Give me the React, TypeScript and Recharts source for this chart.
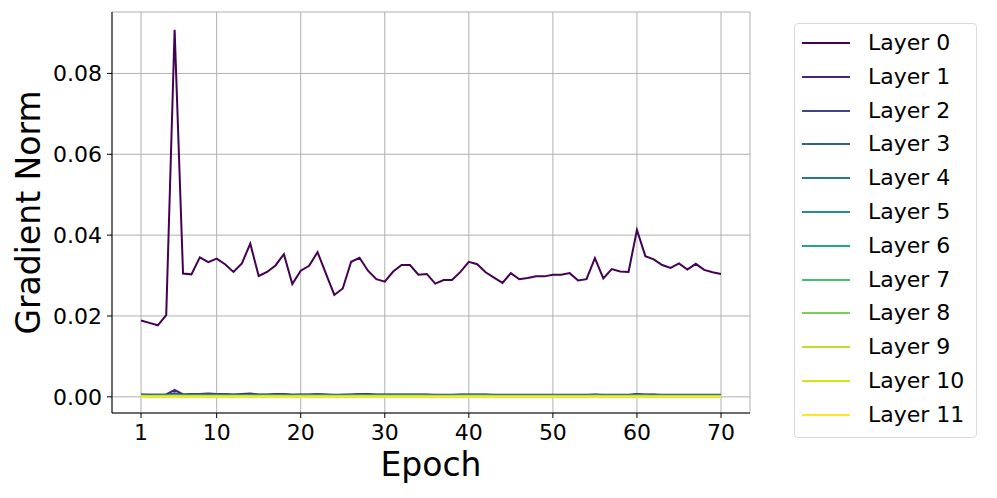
import React from 'react';
import { LineChart, Line, XAxis, YAxis, CartesianGrid } from 'recharts';

const epochs = [
  1, 2, 3, 4, 5, 6, 7, 8, 9, 10,
  11, 12, 13, 14, 15, 16, 17, 18, 19, 20,
  21, 22, 23, 24, 25, 26, 27, 28, 29, 30,
  31, 32, 33, 34, 35, 36, 37, 38, 39, 40,
  41, 42, 43, 44, 45, 46, 47, 48, 49, 50,
  51, 52, 53, 54, 55, 56, 57, 58, 59, 60,
  61, 62, 63, 64, 65, 66, 67, 68, 69, 70,
];

const layer0 = [
  0.0189, 0.0183, 0.0177, 0.0202, 0.0908, 0.0305, 0.0303, 0.0345, 0.0333, 0.0342,
  0.0328, 0.0309, 0.0330, 0.0379, 0.0299, 0.0309, 0.0325, 0.0353, 0.0279, 0.0312,
  0.0324, 0.0358, 0.0305, 0.0252, 0.0268, 0.0334, 0.0344, 0.0312, 0.0291, 0.0285,
  0.0310, 0.0326, 0.0326, 0.0302, 0.0304, 0.0280, 0.0289, 0.0289, 0.0309, 0.0334,
  0.0328, 0.0308, 0.0295, 0.0282, 0.0306, 0.0291, 0.0294, 0.0298, 0.0298, 0.0302,
  0.0302, 0.0306, 0.0288, 0.0291, 0.0343, 0.0293, 0.0316, 0.0310, 0.0309, 0.0413,
  0.0348, 0.0340, 0.0326, 0.0319, 0.0330, 0.0315, 0.0329, 0.0314, 0.0308, 0.0304,
];

const layer1 = [
  0.0006, 0.0005, 0.0005, 0.0006, 0.0017, 0.0006, 0.0007, 0.0007, 0.0008, 0.0007,
  0.0007, 0.0006, 0.0007, 0.0008, 0.0006, 0.0006, 0.0007, 0.0007, 0.0005, 0.0006,
  0.0006, 0.0007, 0.0006, 0.0005, 0.0005, 0.0006, 0.0007, 0.0007, 0.0006, 0.0006,
  0.0006, 0.0006, 0.0006, 0.0006, 0.0006, 0.0005, 0.0005, 0.0005, 0.0006, 0.0006,
  0.0006, 0.0006, 0.0005, 0.0005, 0.0005, 0.0005, 0.0005, 0.0005, 0.0005, 0.0005,
  0.0005, 0.0005, 0.0005, 0.0005, 0.0006, 0.0005, 0.0005, 0.0005, 0.0005, 0.0007,
  0.0006, 0.0006, 0.0005, 0.0005, 0.0005, 0.0005, 0.0005, 0.0005, 0.0005, 0.0005,
];

const layer2 = [
  0.0005, 0.0005, 0.0005, 0.0005, 0.0009, 0.0005, 0.0006, 0.0006, 0.0006, 0.0006,
  0.0006, 0.0005, 0.0005, 0.0006, 0.0005, 0.0005, 0.0005, 0.0006, 0.0005, 0.0005,
  0.0005, 0.0006, 0.0005, 0.0004, 0.0005, 0.0005, 0.0006, 0.0005, 0.0005, 0.0005,
  0.0005, 0.0005, 0.0005, 0.0005, 0.0005, 0.0004, 0.0004, 0.0004, 0.0005, 0.0005,
  0.0005, 0.0005, 0.0004, 0.0004, 0.0004, 0.0004, 0.0004, 0.0004, 0.0004, 0.0004,
  0.0004, 0.0004, 0.0004, 0.0004, 0.0005, 0.0004, 0.0004, 0.0004, 0.0004, 0.0006,
  0.0005, 0.0005, 0.0004, 0.0004, 0.0004, 0.0004, 0.0004, 0.0004, 0.0004, 0.0004,
];

const layer3 = [
  0.0004, 0.0004, 0.0004, 0.0004, 0.0006, 0.0004, 0.0005, 0.0005, 0.0005, 0.0005,
  0.0005, 0.0004, 0.0004, 0.0005, 0.0004, 0.0004, 0.0004, 0.0005, 0.0004, 0.0004,
  0.0004, 0.0005, 0.0004, 0.0004, 0.0004, 0.0004, 0.0005, 0.0004, 0.0004, 0.0004,
  0.0004, 0.0004, 0.0004, 0.0004, 0.0004, 0.0004, 0.0004, 0.0004, 0.0004, 0.0004,
  0.0004, 0.0004, 0.0004, 0.0004, 0.0004, 0.0004, 0.0004, 0.0004, 0.0004, 0.0004,
  0.0004, 0.0004, 0.0004, 0.0004, 0.0004, 0.0004, 0.0004, 0.0004, 0.0004, 0.0005,
  0.0004, 0.0004, 0.0004, 0.0004, 0.0004, 0.0004, 0.0004, 0.0004, 0.0004, 0.0004,
];

const layer4 = [
  0.0004, 0.0003, 0.0003, 0.0004, 0.0005, 0.0004, 0.0004, 0.0004, 0.0004, 0.0004,
  0.0004, 0.0004, 0.0004, 0.0004, 0.0004, 0.0004, 0.0004, 0.0004, 0.0003, 0.0004,
  0.0004, 0.0004, 0.0004, 0.0003, 0.0003, 0.0004, 0.0004, 0.0004, 0.0004, 0.0004,
  0.0004, 0.0004, 0.0004, 0.0004, 0.0004, 0.0003, 0.0003, 0.0003, 0.0004, 0.0004,
  0.0004, 0.0004, 0.0003, 0.0003, 0.0003, 0.0003, 0.0003, 0.0003, 0.0003, 0.0003,
  0.0003, 0.0003, 0.0003, 0.0003, 0.0004, 0.0003, 0.0003, 0.0003, 0.0003, 0.0004,
  0.0004, 0.0003, 0.0003, 0.0003, 0.0003, 0.0003, 0.0003, 0.0003, 0.0003, 0.0003,
];

const layer5 = [
  0.0003, 0.0003, 0.0003, 0.0003, 0.0004, 0.0003, 0.0003, 0.0003, 0.0004, 0.0003,
  0.0003, 0.0003, 0.0003, 0.0004, 0.0003, 0.0003, 0.0003, 0.0003, 0.0003, 0.0003,
  0.0003, 0.0003, 0.0003, 0.0003, 0.0003, 0.0003, 0.0004, 0.0003, 0.0003, 0.0003,
  0.0003, 0.0003, 0.0003, 0.0003, 0.0003, 0.0003, 0.0003, 0.0003, 0.0003, 0.0003,
  0.0003, 0.0003, 0.0003, 0.0003, 0.0003, 0.0003, 0.0003, 0.0003, 0.0003, 0.0003,
  0.0003, 0.0003, 0.0003, 0.0003, 0.0003, 0.0003, 0.0003, 0.0003, 0.0003, 0.0004,
  0.0003, 0.0003, 0.0003, 0.0003, 0.0003, 0.0003, 0.0003, 0.0003, 0.0003, 0.0003,
];

const layer6 = [
  0.0003, 0.0002, 0.0002, 0.0003, 0.0003, 0.0003, 0.0003, 0.0003, 0.0003, 0.0003,
  0.0003, 0.0003, 0.0003, 0.0003, 0.0003, 0.0003, 0.0003, 0.0003, 0.0002, 0.0003,
  0.0003, 0.0003, 0.0003, 0.0002, 0.0002, 0.0003, 0.0003, 0.0003, 0.0003, 0.0003,
  0.0003, 0.0003, 0.0003, 0.0003, 0.0003, 0.0002, 0.0002, 0.0002, 0.0003, 0.0003,
  0.0003, 0.0003, 0.0002, 0.0002, 0.0002, 0.0002, 0.0002, 0.0002, 0.0002, 0.0002,
  0.0002, 0.0002, 0.0002, 0.0002, 0.0003, 0.0002, 0.0002, 0.0002, 0.0002, 0.0003,
  0.0003, 0.0002, 0.0002, 0.0002, 0.0002, 0.0002, 0.0002, 0.0002, 0.0002, 0.0002,
];

const layer7 = [
  0.0002, 0.0002, 0.0002, 0.0002, 0.0003, 0.0002, 0.0002, 0.0002, 0.0002, 0.0002,
  0.0002, 0.0002, 0.0002, 0.0002, 0.0002, 0.0002, 0.0002, 0.0002, 0.0002, 0.0002,
  0.0002, 0.0002, 0.0002, 0.0002, 0.0002, 0.0002, 0.0002, 0.0002, 0.0002, 0.0002,
  0.0002, 0.0002, 0.0002, 0.0002, 0.0002, 0.0002, 0.0002, 0.0002, 0.0002, 0.0002,
  0.0002, 0.0002, 0.0002, 0.0002, 0.0002, 0.0002, 0.0002, 0.0002, 0.0002, 0.0002,
  0.0002, 0.0002, 0.0002, 0.0002, 0.0002, 0.0002, 0.0002, 0.0002, 0.0002, 0.0002,
  0.0002, 0.0002, 0.0002, 0.0002, 0.0002, 0.0002, 0.0002, 0.0002, 0.0002, 0.0002,
];

const layer8 = [
  0.0002, 0.0001, 0.0001, 0.0002, 0.0002, 0.0002, 0.0002, 0.0002, 0.0002, 0.0002,
  0.0002, 0.0002, 0.0002, 0.0002, 0.0002, 0.0002, 0.0002, 0.0002, 0.0001, 0.0002,
  0.0002, 0.0002, 0.0002, 0.0001, 0.0001, 0.0002, 0.0002, 0.0002, 0.0002, 0.0002,
  0.0002, 0.0002, 0.0002, 0.0002, 0.0002, 0.0001, 0.0001, 0.0001, 0.0002, 0.0002,
  0.0002, 0.0002, 0.0001, 0.0001, 0.0001, 0.0001, 0.0001, 0.0001, 0.0001, 0.0001,
  0.0001, 0.0001, 0.0001, 0.0001, 0.0002, 0.0001, 0.0001, 0.0001, 0.0001, 0.0002,
  0.0002, 0.0001, 0.0001, 0.0001, 0.0001, 0.0001, 0.0001, 0.0001, 0.0001, 0.0001,
];

const layer9 = [
  0.0001, 0.0001, 0.0001, 0.0001, 0.0002, 0.0001, 0.0001, 0.0001, 0.0001, 0.0001,
  0.0001, 0.0001, 0.0001, 0.0001, 0.0001, 0.0001, 0.0001, 0.0001, 0.0001, 0.0001,
  0.0001, 0.0001, 0.0001, 0.0001, 0.0001, 0.0001, 0.0001, 0.0001, 0.0001, 0.0001,
  0.0001, 0.0001, 0.0001, 0.0001, 0.0001, 0.0001, 0.0001, 0.0001, 0.0001, 0.0001,
  0.0001, 0.0001, 0.0001, 0.0001, 0.0001, 0.0001, 0.0001, 0.0001, 0.0001, 0.0001,
  0.0001, 0.0001, 0.0001, 0.0001, 0.0001, 0.0001, 0.0001, 0.0001, 0.0001, 0.0001,
  0.0001, 0.0001, 0.0001, 0.0001, 0.0001, 0.0001, 0.0001, 0.0001, 0.0001, 0.0001,
];

const layer10 = [
  0.00008, 0.00007, 0.00007, 0.00008, 0.00010, 0.00008, 0.00008, 0.00008, 0.00009, 0.00008,
  0.00008, 0.00008, 0.00008, 0.00009, 0.00008, 0.00008, 0.00008, 0.00008, 0.00007, 0.00008,
  0.00008, 0.00008, 0.00008, 0.00007, 0.00007, 0.00008, 0.00008, 0.00008, 0.00008, 0.00008,
  0.00008, 0.00008, 0.00008, 0.00008, 0.00008, 0.00007, 0.00007, 0.00007, 0.00008, 0.00008,
  0.00008, 0.00008, 0.00007, 0.00007, 0.00007, 0.00007, 0.00007, 0.00007, 0.00007, 0.00007,
  0.00007, 0.00007, 0.00007, 0.00007, 0.00008, 0.00007, 0.00007, 0.00007, 0.00007, 0.00008,
  0.00008, 0.00007, 0.00007, 0.00007, 0.00007, 0.00007, 0.00007, 0.00007, 0.00007, 0.00007,
];

const layer11 = [
  0.00004, 0.00004, 0.00004, 0.00004, 0.00005, 0.00004, 0.00004, 0.00004, 0.00004, 0.00004,
  0.00004, 0.00004, 0.00004, 0.00004, 0.00004, 0.00004, 0.00004, 0.00004, 0.00004, 0.00004,
  0.00004, 0.00004, 0.00004, 0.00004, 0.00004, 0.00004, 0.00004, 0.00004, 0.00004, 0.00004,
  0.00004, 0.00004, 0.00004, 0.00004, 0.00004, 0.00004, 0.00004, 0.00004, 0.00004, 0.00004,
  0.00004, 0.00004, 0.00004, 0.00004, 0.00004, 0.00004, 0.00004, 0.00004, 0.00004, 0.00004,
  0.00004, 0.00004, 0.00004, 0.00004, 0.00004, 0.00004, 0.00004, 0.00004, 0.00004, 0.00004,
  0.00004, 0.00004, 0.00004, 0.00004, 0.00004, 0.00004, 0.00004, 0.00004, 0.00004, 0.00004,
];

const layers = [layer0, layer1, layer2, layer3, layer4, layer5, layer6, layer7, layer8, layer9, layer10, layer11];
const layerNames = [
  'Layer 0', 'Layer 1', 'Layer 2', 'Layer 3', 'Layer 4', 'Layer 5',
  'Layer 6', 'Layer 7', 'Layer 8', 'Layer 9', 'Layer 10', 'Layer 11',
];
// viridis sampled at 12 steps
const layerColors = [
  '#440154', '#482475', '#414487', '#355f8d', '#2a788e', '#21918c',
  '#22a884', '#44bf70', '#7ad151', '#bddf26', '#d8e219', '#fde725',
];

const xTicks = [1, 10, 20, 30, 40, 50, 60, 70];
const yTicks = [0, 0.02, 0.04, 0.06, 0.08];

const data = epochs.map((epoch, i) => {
  const row: Record<string, number> = { epoch };
  layers.forEach((vals, l) => {
    row[`l${l}`] = vals[i];
  });
  return row;
});

const FONT = '"DejaVu Sans", sans-serif';
const tickStyle = { fontSize: 22, fill: '#000', fontFamily: FONT };

function LegendBox() {
  return (
    <div
      style={{
        position: 'absolute',
        left: 794,
        top: 23,
        width: 183,
        height: 415,
        border: '1px solid #d9d9d9',
        borderRadius: 4,
        background: '#fff',
        boxSizing: 'border-box',
        fontFamily: FONT,
        fontSize: 22,
        color: '#000',
      }}
    >
      {layerNames.map((name, i) => {
        const cy = 43 + i * 33.8 - 24;
        return (
          <div key={name} style={{ position: 'absolute', left: 0, top: cy - 15, height: 30, width: '100%' }}>
            <div
              style={{
                position: 'absolute',
                left: 7,
                top: 14,
                width: 48,
                height: 2,
                background: layerColors[i],
              }}
            />
            <div style={{ position: 'absolute', left: 73, top: 0, lineHeight: '30px', whiteSpace: 'nowrap' }}>
              {name}
            </div>
          </div>
        );
      })}
    </div>
  );
}

export default function App() {
  return (
    <div style={{ position: 'fixed', left: 0, top: 0, width: 997, height: 498, background: '#fff' }}>
      <LineChart width={997} height={498} data={data} margin={{ top: 12, right: 247, left: 0, bottom: 0 }}>
        <CartesianGrid stroke="#b0b0b0" strokeWidth={1} />
        <XAxis
          dataKey="epoch"
          type="number"
          domain={[-2.45, 73.45]}
          ticks={xTicks}
          allowDataOverflow
          height={85}
          tick={tickStyle}
          tickSize={5}
          tickMargin={6}
          stroke="#000"
          interval={0}
          label={{
            value: 'Epoch',
            position: 'insideBottom',
            offset: 22,
            style: { fontSize: 33, fill: '#000', fontFamily: FONT },
          }}
        />
        <XAxis xAxisId="top" orientation="top" type="number" domain={[-2.45, 73.45]} height={0} tick={false} tickLine={false} stroke="#000" />
        <YAxis
          type="number"
          domain={[-0.004, 0.0952]}
          ticks={yTicks}
          allowDataOverflow
          width={112}
          tick={tickStyle}
          tickSize={5}
          tickMargin={5}
          stroke="#000"
          interval={0}
          tickFormatter={(v: number) => v.toFixed(2)}
          label={{
            value: 'Gradient Norm',
            angle: -90,
            position: 'insideLeft',
            offset: 28,
            style: { fontSize: 33, fill: '#000', fontFamily: FONT, textAnchor: 'middle' },
          }}
        />
        <YAxis yAxisId="right" orientation="right" type="number" domain={[0, 1]} width={0} tick={false} tickLine={false} stroke="#000" />
        {layers.map((_, l) => (
          <Line
            key={l}
            type="linear"
            dataKey={`l${l}`}
            stroke={layerColors[l]}
            strokeWidth={2}
            dot={false}
            isAnimationActive={false}
          />
        ))}
      </LineChart>
      <LegendBox />
    </div>
  );
}
